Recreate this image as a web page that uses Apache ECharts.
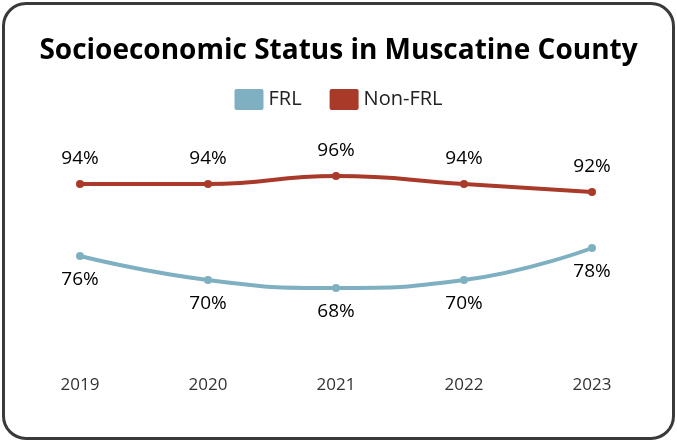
<!DOCTYPE html>
<html lang="en">

<head>
    <meta charset="UTF-8">
    <title>Socioeconomic Status in Muscatine County</title>
    <script type="text/javascript" src="https://cdn.jsdelivr.net/npm/echarts@6/dist/echarts.min.js"></script>
    <style>
        html, body {
            margin: 0;
            padding: 0;
            background: #fff;
        }

        #main {
            position: absolute;
            left: 0;
            top: 0;
            width: 677px;
            height: 443px;
        }

        /* rounded frame around the chart */
        .frame {
            position: absolute;
            left: 2px;
            top: 2px;
            width: 667px;
            height: 432px;
            border: 3px solid #3a3a3a;
            border-radius: 24px;
            pointer-events: none;
        }
    </style>
</head>

<body>
    <div id="main"></div>
    <div class="frame"></div>

    <script type="text/javascript">
        var years = ['2019', '2020', '2021', '2022', '2023'];
        var frl = [76, 70, 68, 70, 78];
        var nonFrl = [94, 94, 96, 94, 92];

        var myChart = echarts.init(document.getElementById('main'));
        var font = '"Open Sans", "Noto Sans", sans-serif';

        var option = {
            title: {
                text: 'Socioeconomic Status in Muscatine County',
                left: 'center',
                top: 32,
                textStyle: {
                    fontFamily: font,
                    fontWeight: 'bold',
                    fontSize: 28,
                    color: '#000'
                }
            },
            legend: {
                top: 84,
                left: 'center',
                itemWidth: 29,
                itemHeight: 21,
                itemGap: 28,
                icon: 'path://M2,0 L27,0 Q29,0 29,2 L29,19 Q29,21 27,21 L2,21 Q0,21 0,19 L0,2 Q0,0 2,0 Z',
                data: ['FRL', 'Non-FRL'],
                textStyle: {
                    fontFamily: font,
                    fontSize: 20,
                    color: '#222'
                }
            },
            grid: {
                left: 16,
                right: 21,
                top: 160,
                bottom: 83
            },
            xAxis: {
                type: 'category',
                boundaryGap: true,
                data: years,
                axisLine: { show: false },
                axisTick: { show: false },
                axisLabel: {
                    margin: 17,
                    fontFamily: font,
                    fontSize: 17,
                    color: '#333'
                }
            },
            yAxis: {
                type: 'value',
                min: 50,
                max: 100,
                show: false
            },
            series: [
                {
                    name: 'FRL',
                    type: 'line',
                    smooth: true,
                    symbol: 'circle',
                    symbolSize: 8,
                    data: frl,
                    lineStyle: { color: '#7fb0c1', width: 4 },
                    itemStyle: { color: '#7fb0c1' },
                    label: {
                        show: true,
                        position: 'bottom',
                        distance: 10,
                        formatter: '{c}%',
                        fontFamily: font,
                        fontSize: 19,
                        color: '#000'
                    }
                },
                {
                    name: 'Non-FRL',
                    type: 'line',
                    smooth: true,
                    symbol: 'circle',
                    symbolSize: 8,
                    data: nonFrl,
                    lineStyle: { color: '#a93a29', width: 4 },
                    itemStyle: { color: '#a93a29' },
                    label: {
                        show: true,
                        position: 'top',
                        distance: 12,
                        formatter: '{c}%',
                        fontFamily: font,
                        fontSize: 19,
                        color: '#000'
                    }
                }
            ]
        };

        myChart.setOption(option);
    </script>
</body>

</html>
